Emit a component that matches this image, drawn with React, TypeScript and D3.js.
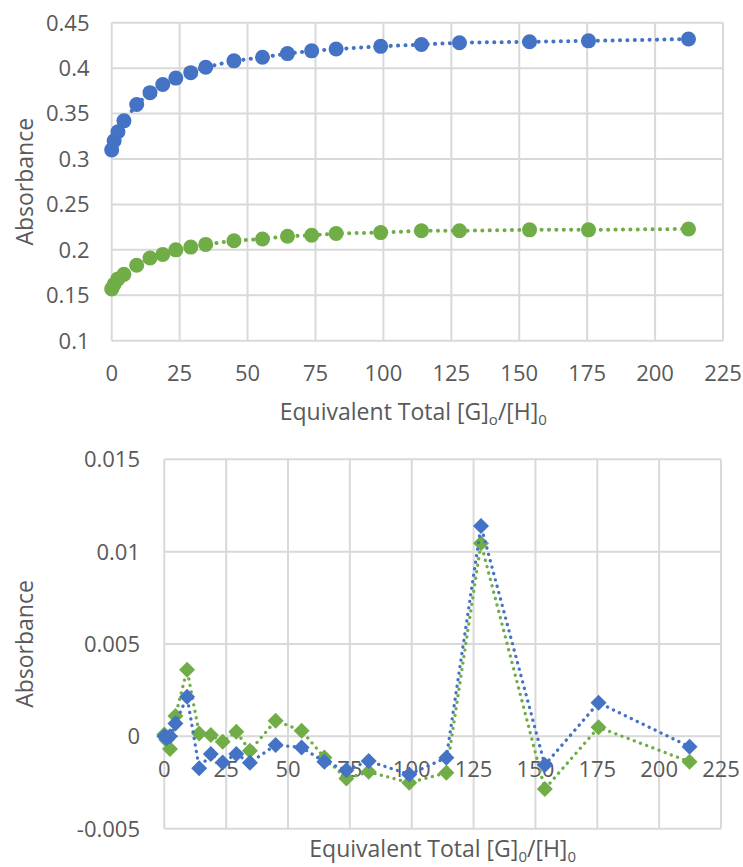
import React from "react";
import * as d3 from "d3";

// Equivalents of total guest per host, shared by both panels
const ratio = [0, 0.9, 2.3, 4.5, 9.2, 14.1, 18.8, 23.6, 29.1, 34.6, 45.0, 55.5, 64.7, 73.6, 82.6, 99.0, 114.0, 128.0, 153.8, 175.5, 212.3];

// Absorbance at two wavelengths
const absBlue = [0.310, 0.320, 0.330, 0.342, 0.360, 0.373, 0.382, 0.389, 0.395, 0.401, 0.408, 0.412, 0.416, 0.419, 0.421, 0.424, 0.426, 0.428, 0.429, 0.430, 0.432];
const absGreen = [0.157, 0.162, 0.168, 0.173, 0.183, 0.191, 0.195, 0.200, 0.203, 0.206, 0.210, 0.212, 0.215, 0.216, 0.218, 0.219, 0.221, 0.221, 0.222, 0.222, 0.223];

// Residuals of the fit
const resBlue = [0, -0.0001, 0.0, 0.0007, 0.00215, -0.00173, -0.00096, -0.00141, -0.00096, -0.00143, -0.00047, -0.0006, -0.00138, -0.00183, -0.00134, -0.00206, -0.00116, 0.01139, -0.00155, 0.00182, -0.00056];
const resGreen = [0.0001, -0.0002, -0.00068, 0.0011, 0.0036, 0.00016, 0.00007, -0.00029, 0.00025, -0.00078, 0.00085, 0.0003, -0.00114, -0.00228, -0.00192, -0.00251, -0.00197, 0.01045, -0.00285, 0.00049, -0.00138];

const xTicks = [0, 25, 50, 75, 100, 125, 150, 175, 200, 225];
const yTicksTop = [0.1, 0.15, 0.2, 0.25, 0.3, 0.35, 0.4, 0.45];
const yTicksBottom = [-0.005, 0, 0.005, 0.01, 0.015];

const BLUE = "#4472C4";
const GREEN = "#70AD47";
const GRID = "#D9D9D9";
const TEXT = "#595959";
const FONT = "'Open Sans', 'Noto Sans', sans-serif";

const fmt2 = (v: number) => String(+v.toFixed(2));
const fmt3 = (v: number) => String(+v.toFixed(3));

function diamond(cx: number, cy: number, r: number) {
  return `M${cx},${cy - r}L${cx + r},${cy}L${cx},${cy + r}L${cx - r},${cy}Z`;
}

export default function App() {
  // upper panel
  const xT = d3.scaleLinear().domain([0, 225]).range([111.7, 723]);
  const yT = d3.scaleLinear().domain([0.1, 0.45]).range([340.7, 22.7]);
  // lower panel
  const xB = d3.scaleLinear().domain([0, 225]).range([164.3, 721]);
  const yB = d3.scaleLinear().domain([-0.005, 0.015]).range([828.7, 459.3]);

  const lineTop = (vals: number[]) =>
    d3.line<number>().x((_, i) => xT(ratio[i])).y((v) => yT(v))(vals) as string;
  const lineBottom = (vals: number[]) =>
    d3.line<number>().x((_, i) => xB(ratio[i])).y((v) => yB(v))(vals) as string;

  const tickFont = 22;

  return (
    <svg
      width={743}
      height={867}
      style={{ position: "absolute", left: 0, top: 0, background: "#fff" }}
      fontFamily={FONT}
    >
      <rect width={743} height={867} fill="#fff" />

      {/* ---------- upper panel ---------- */}
      <g>
        {yTicksTop.map((t) => (
          <line key={"gy" + t} x1={xT(0)} x2={xT(225)} y1={yT(t)} y2={yT(t)} stroke={GRID} strokeWidth={2} />
        ))}
        {xTicks.map((t) => (
          <line key={"gx" + t} x1={xT(t)} x2={xT(t)} y1={yT(0.1)} y2={yT(0.45)} stroke={GRID} strokeWidth={2} />
        ))}
        {yTicksTop.map((t) => (
          <text key={"ly" + t} x={89.5} y={yT(t)} dy="0.36em" textAnchor="end" fontSize={tickFont} fill={TEXT}>
            {fmt2(t)}
          </text>
        ))}
        {xTicks.map((t) => (
          <text key={"lx" + t} x={xT(t)} y={381} textAnchor="middle" fontSize={tickFont} fill={TEXT}>
            {t}
          </text>
        ))}
        <text x={33} y={yT(0.275)} transform={`rotate(-90 33 ${yT(0.275)})`} textAnchor="middle" fontSize={23} fill={TEXT}>
          Absorbance
        </text>
        <text x={(xT(0) + xT(225)) / 2 - 4} y={420} textAnchor="middle" fontSize={23} fill={TEXT}>
          Equivalent Total [G]
          <tspan fontSize={15} dy={5}>o</tspan>
          <tspan dy={-5}>/[H]</tspan>
          <tspan fontSize={15} dy={5}>0</tspan>
        </text>

        {[{ v: absBlue, c: BLUE }, { v: absGreen, c: GREEN }].map((s, k) => (
          <g key={"ts" + k}>
            <path d={lineTop(s.v)} fill="none" stroke={s.c} strokeWidth={4} strokeLinecap="round" strokeDasharray="0.1 7.3" />
            {s.v.map((v, i) => (
              <circle key={i} cx={xT(ratio[i])} cy={yT(v)} r={7.5} fill={s.c} />
            ))}
          </g>
        ))}
      </g>

      {/* ---------- lower panel ---------- */}
      <g>
        {yTicksBottom.map((t) => (
          <line key={"gy" + t} x1={xB(0)} x2={xB(225)} y1={yB(t)} y2={yB(t)} stroke={GRID} strokeWidth={2} />
        ))}
        {xTicks.map((t) => (
          <line key={"gx" + t} x1={xB(t)} x2={xB(t)} y1={yB(-0.005)} y2={yB(0.015)} stroke={GRID} strokeWidth={2} />
        ))}
        {yTicksBottom.map((t) => (
          <text key={"ly" + t} x={140} y={yB(t)} dy="0.36em" textAnchor="end" fontSize={tickFont} fill={TEXT}>
            {fmt3(t)}
          </text>
        ))}
        {xTicks.map((t) => (
          <text key={"lx" + t} x={xB(t)} y={yB(0) + 40.5} textAnchor="middle" fontSize={tickFont} fill={TEXT}>
            {t}
          </text>
        ))}
        <text x={33} y={yB(0.005)} transform={`rotate(-90 33 ${yB(0.005)})`} textAnchor="middle" fontSize={23} fill={TEXT}>
          Absorbance
        </text>
        <text x={(xB(0) + xB(225)) / 2} y={857} textAnchor="middle" fontSize={23} fill={TEXT}>
          Equivalent Total [G]
          <tspan fontSize={15} dy={5}>0</tspan>
          <tspan dy={-5}>/[H]</tspan>
          <tspan fontSize={15} dy={5}>0</tspan>
        </text>

        {[{ v: resGreen, c: GREEN }, { v: resBlue, c: BLUE }].map((s, k) => (
          <g key={"bs" + k}>
            <path d={lineBottom(s.v)} fill="none" stroke={s.c} strokeWidth={3.3} strokeLinecap="round" strokeDasharray="0.1 6.5" />
            {s.v.map((v, i) => (
              <path key={i} d={diamond(xB(ratio[i]), yB(v), 8)} fill={s.c} />
            ))}
          </g>
        ))}
      </g>
    </svg>
  );
}
